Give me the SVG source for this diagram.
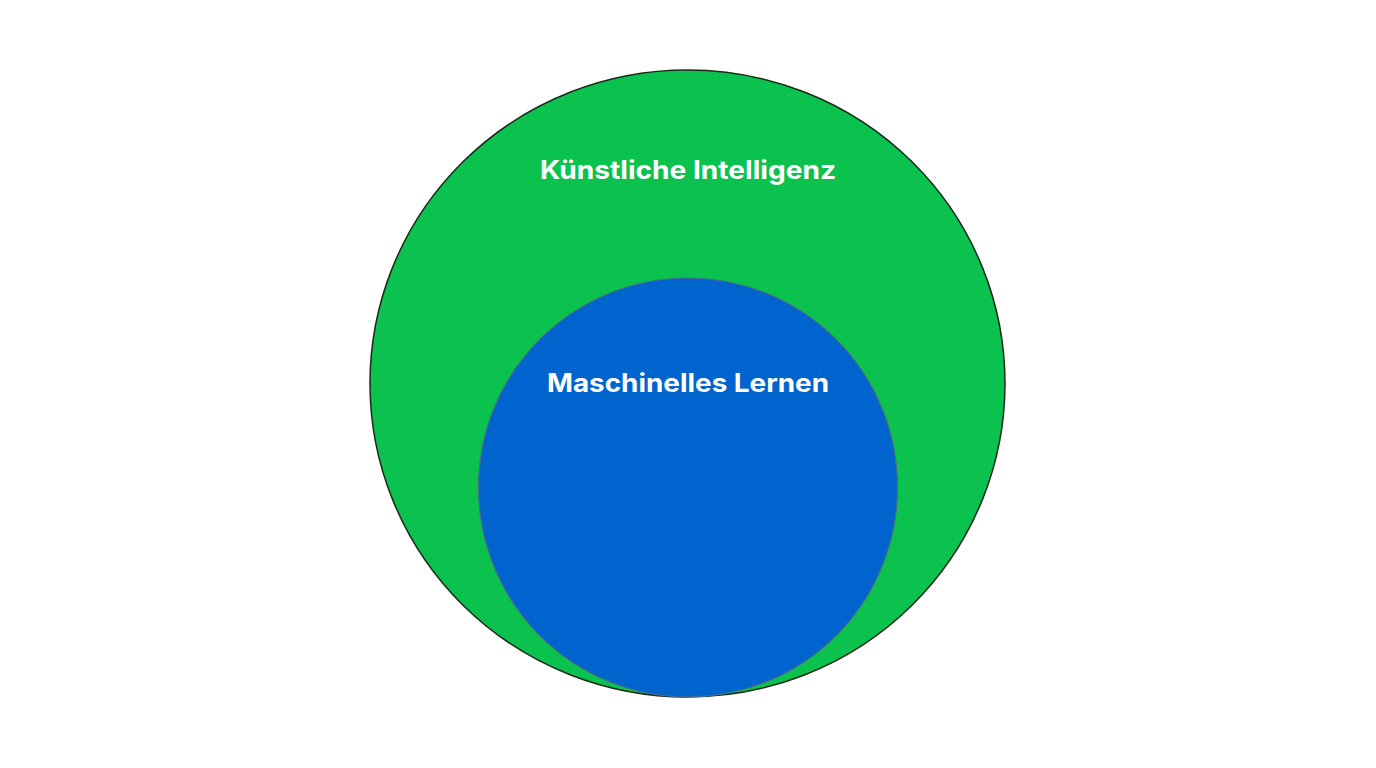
<svg xmlns="http://www.w3.org/2000/svg" width="1376" height="768" viewBox="0 0 1376 768">
<style>
.lbl{font-family:"Inter","Open Sans","Liberation Sans",sans-serif;font-weight:700;fill:#ffffff;text-anchor:middle}
</style>
<rect width="1376" height="768" fill="#ffffff"/>
<g id="ki">
<ellipse cx="687.5" cy="383.5" rx="317.5" ry="313.5" fill="#0BC24F" stroke="#1a2a1a" stroke-width="1.5"/>
<text class="lbl" x="688" y="179" font-size="25.5" textLength="296" lengthAdjust="spacingAndGlyphs">Künstliche Intelligenz</text>
</g>
<g id="ml">
<circle cx="688" cy="487.5" r="209.5" fill="#0064CF" stroke="#4a6a8a" stroke-width="1.2"/>
<text class="lbl" x="688" y="392" font-size="25.5" textLength="282" lengthAdjust="spacingAndGlyphs">Maschinelles Lernen</text>
</g>
<g id="connectors"/>
</svg>
